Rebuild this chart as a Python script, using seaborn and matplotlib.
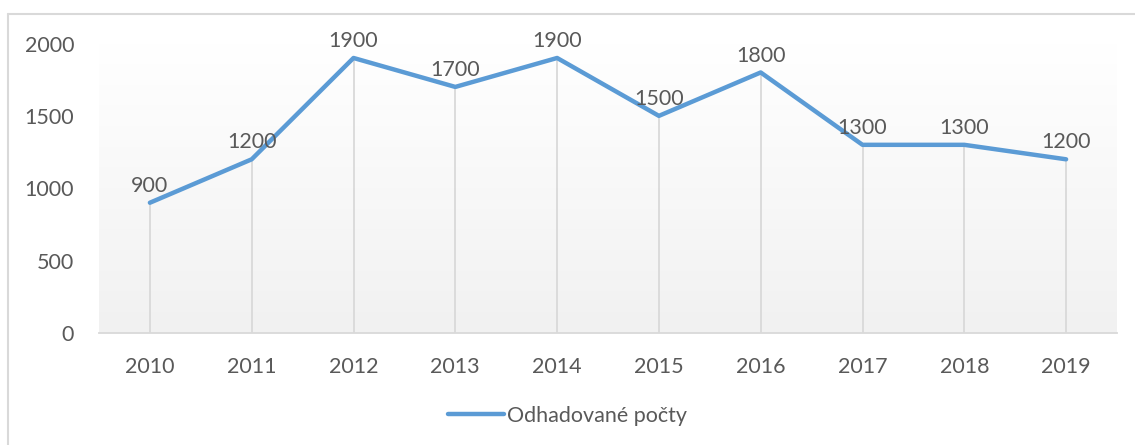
import numpy as np
import pandas as pd
import matplotlib
matplotlib.use("Agg")
import matplotlib.pyplot as plt
from matplotlib.lines import Line2D
from matplotlib.colors import LinearSegmentedColormap
import seaborn as sns

years = ["2010", "2011", "2012", "2013", "2014", "2015", "2016", "2017", "2018", "2019"]
counts = [900, 1200, 1900, 1700, 1900, 1500, 1800, 1300, 1300, 1200]
series_name = "Odhadované počty"
y_ticks = [0, 500, 1000, 1500, 2000]

sns.set_theme(style="white")
plt.rcParams["font.family"] = ["Lato", "DejaVu Sans"]

TEXT = "#595959"
BLUE = "#5b9bd5"
GRID = "#d9d9d9"
FS = 15.5

df = pd.DataFrame({"year": years, "count": counts, "pos": np.arange(len(years))})

fig = plt.figure(figsize=(11.35, 4.45), dpi=100)
ax = fig.add_axes([99 / 1135, 1 - 333 / 445, (1117 - 99) / 1135, (333 - 43.5) / 445])

# gradient background
grad = np.linspace(0, 1, 256).reshape(-1, 1)
cmap = LinearSegmentedColormap.from_list("g", ["#ffffff", "#f1f1f1"])
ax.imshow(grad, extent=[0, 1, 0, 1], transform=ax.transAxes, cmap=cmap,
          aspect="auto", zorder=0, origin="upper")

# drop lines
ax.vlines(df["pos"], 0, df["count"], colors=GRID, linewidth=1.3, zorder=1)

sns.lineplot(data=df, x="pos", y="count", ax=ax, color=BLUE, linewidth=3.2,
             legend=False, zorder=3, solid_capstyle="round", solid_joinstyle="round")

for p, v in zip(df["pos"], df["count"]):
    ax.annotate(f"{v}", (p, v), xytext=(0, 5), textcoords="offset points",
                ha="center", va="bottom", fontsize=FS, color=TEXT, zorder=4,
                annotation_clip=False)

ax.set_xlim(-0.5, len(years) - 0.5)
ax.set_ylim(0, 2000)
ax.set_xticks(df["pos"])
ax.set_xticklabels(years)
ax.set_yticks(y_ticks)
ax.tick_params(axis="both", length=0, labelsize=FS, labelcolor=TEXT)
ax.tick_params(axis="x", pad=17)
ax.tick_params(axis="y", pad=18)
ax.set_xlabel("")
ax.set_ylabel("")
for s in ["top", "right", "left"]:
    ax.spines[s].set_visible(False)
ax.spines["bottom"].set_color(GRID)
ax.spines["bottom"].set_linewidth(1.3)
ax.spines["bottom"].set_zorder(2)

handle = Line2D([0], [0], color=BLUE, linewidth=3.2, solid_capstyle="round")
fig.legend([handle], [series_name], loc="center", bbox_to_anchor=(0.5, 1 - 416 / 445),
           frameon=False, fontsize=FS, labelcolor=TEXT, handlelength=2.6,
           handletextpad=0.15)

# outer chart border (partly cropped)
fig.add_artist(Line2D([8 / 1135, 1.0], [1 - 14 / 445] * 2, transform=fig.transFigure,
                      color="#d9d9d9", linewidth=1.5))
fig.add_artist(Line2D([8 / 1135] * 2, [0, 1 - 14 / 445], transform=fig.transFigure,
                      color="#d9d9d9", linewidth=1.5))

fig.savefig("out.png", dpi=100, facecolor="white")
